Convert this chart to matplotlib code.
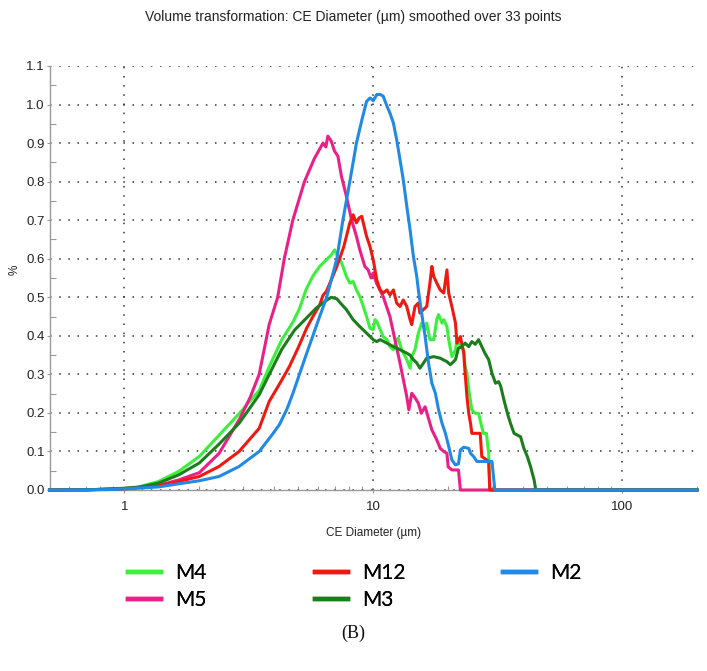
import numpy as np
import matplotlib
matplotlib.use("Agg")
import matplotlib.pyplot as plt
from matplotlib.ticker import FixedLocator, NullFormatter, FuncFormatter

# ---------------- data ----------------
m4_x = [0.5, 0.7, 0.85, 1.0, 1.14, 1.37, 1.65, 2.0, 2.4, 2.89, 3.48, 3.82, 4.29, 4.75, 5.05, 5.37,
        5.72, 6.09, 6.48, 6.78, 6.99, 7.15, 7.34, 7.55, 7.80, 8.05, 8.30, 8.56, 8.83, 9.12, 9.40,
        9.70, 10.0, 10.16, 10.33, 10.66, 10.96, 11.35, 11.67, 12.05, 12.42, 12.6, 13.0, 13.64,
        14.06, 14.28, 14.71, 15.18, 15.65, 16.16, 16.4, 16.9, 17.5, 18.0, 18.3, 18.9, 19.2, 19.77,
        20.1, 20.7, 21.4, 21.7, 22.4, 23.1, 23.4, 23.8, 24.2, 24.9, 25.7, 26.5, 27.3, 27.7, 28.5,
        29.1, 29.4, 200]
m4_y = [0.0, 0.0005, 0.002, 0.005, 0.008, 0.022, 0.048, 0.087, 0.142, 0.198, 0.258, 0.32, 0.39,
        0.435, 0.47, 0.52, 0.555, 0.58, 0.597, 0.61, 0.623, 0.61, 0.60, 0.58, 0.554, 0.537, 0.541,
        0.519, 0.502, 0.476, 0.45, 0.42, 0.416, 0.442, 0.437, 0.416, 0.398, 0.39, 0.372, 0.364,
        0.39, 0.394, 0.364, 0.338, 0.316, 0.346, 0.364, 0.407, 0.433, 0.416, 0.433, 0.39, 0.39,
        0.442, 0.455, 0.433, 0.442, 0.424, 0.39, 0.346, 0.364, 0.39, 0.372, 0.364, 0.32, 0.303,
        0.26, 0.208, 0.199, 0.199, 0.164, 0.147, 0.147, 0.095, 0.0, 0.0]

m5_x = [0.5, 0.7, 0.85, 1.0, 1.14, 1.37, 1.65, 2.0, 2.4, 2.89, 3.2, 3.48, 3.82, 4.13, 4.39, 4.75,
        5.29, 5.8, 6.28, 6.45, 6.57, 6.78, 6.99, 7.21, 7.45, 7.80, 8.18, 8.56, 8.83, 9.25, 9.54,
        9.8, 10.0, 10.3, 10.96, 11.67, 12.22, 12.81, 13.64, 13.9, 14.28, 14.7, 15.18, 15.6, 16.16,
        16.6, 17.2, 18.0, 18.58, 19.2, 19.77, 20.0, 20.7, 22.0, 22.4, 200]
m5_y = [0.0, 0.0005, 0.002, 0.004, 0.007, 0.012, 0.026, 0.045, 0.095, 0.182, 0.24, 0.30, 0.43,
        0.50, 0.60, 0.70, 0.80, 0.86, 0.90, 0.89, 0.918, 0.905, 0.879, 0.866, 0.814, 0.762, 0.701,
        0.658, 0.623, 0.58, 0.571, 0.55, 0.563, 0.537, 0.502, 0.45, 0.39, 0.329, 0.242, 0.208,
        0.251, 0.24, 0.225, 0.199, 0.216, 0.19, 0.156, 0.13, 0.108, 0.10, 0.095, 0.06, 0.052,
        0.052, 0.0, 0.0]

m12_x = [0.5, 0.7, 0.85, 1.0, 1.14, 1.37, 1.65, 2.0, 2.4, 2.89, 3.48, 3.82, 4.2, 4.6, 5.0, 5.4,
         5.72, 6.09, 6.28, 6.48, 6.78, 7.14, 7.38, 7.62, 7.80, 8.05, 8.30, 8.56, 8.78, 8.99, 9.12,
         9.40, 9.70, 10.0, 10.33, 10.66, 10.96, 11.35, 11.67, 12.05, 12.42, 12.81, 13.2, 13.64,
         14.06, 14.28, 14.71, 15.18, 15.4, 15.9, 16.4, 16.9, 17.2, 17.5, 18.0, 18.58, 19.2, 19.77,
         20.1, 20.7, 21.4, 21.7, 22.4, 23.1, 23.4, 23.8, 24.2, 24.6, 24.9, 26.9, 27.3, 29.1, 29.4,
         200]
m12_y = [0.0, 0.0005, 0.002, 0.003, 0.006, 0.010, 0.022, 0.035, 0.061, 0.10, 0.16, 0.23, 0.275,
         0.32, 0.37, 0.42, 0.45, 0.48, 0.505, 0.515, 0.545, 0.58, 0.606, 0.632, 0.658, 0.693,
         0.714, 0.693, 0.706, 0.71, 0.693, 0.658, 0.632, 0.597, 0.545, 0.519, 0.511, 0.519, 0.506,
         0.519, 0.485, 0.476, 0.493, 0.476, 0.442, 0.429, 0.476, 0.485, 0.459, 0.468, 0.476,
         0.537, 0.58, 0.554, 0.537, 0.519, 0.511, 0.571, 0.511, 0.476, 0.433, 0.381, 0.398, 0.355,
         0.303, 0.242, 0.199, 0.173, 0.147, 0.147, 0.087, 0.074, 0.0, 0.0]

m3_x = [0.5, 0.7, 0.85, 1.0, 1.14, 1.37, 1.65, 2.0, 2.4, 2.89, 3.48, 3.82, 4.29, 4.83, 5.37, 5.9,
        6.48, 6.78, 7.14, 7.38, 7.80, 8.30, 8.83, 9.40, 10.0, 10.33, 10.66, 11.35, 12.05, 12.81,
        13.64, 14.06, 14.5, 14.95, 15.4, 15.9, 16.4, 17.5, 18.58, 19.77, 20.4, 21.4, 22.0, 22.7,
        23.4, 24.2, 24.9, 25.7, 26.5, 27.3, 28.1, 29.1, 30.0, 31.0, 31.9, 32.5, 33.5, 34.6, 35.6,
        36.8, 39.1, 40.3, 41.6, 42.9, 44.3, 45.0, 200]
m3_y = [0.0, 0.0005, 0.002, 0.004, 0.007, 0.018, 0.039, 0.07, 0.119, 0.173, 0.247, 0.30, 0.365,
        0.415, 0.445, 0.472, 0.492, 0.50, 0.496, 0.485, 0.468, 0.442, 0.424, 0.407, 0.39, 0.385,
        0.39, 0.381, 0.372, 0.364, 0.355, 0.35, 0.338, 0.33, 0.316, 0.329, 0.342, 0.346, 0.342,
        0.333, 0.325, 0.338, 0.368, 0.372, 0.381, 0.372, 0.385, 0.378, 0.39, 0.372, 0.355, 0.338,
        0.303, 0.277, 0.281, 0.27, 0.234, 0.199, 0.173, 0.147, 0.138, 0.108, 0.087, 0.06, 0.026,
        0.0, 0.0]

m2_x = [0.5, 0.7, 0.85, 1.0, 1.14, 1.37, 1.65, 2.0, 2.4, 2.89, 3.48, 3.94, 4.2, 4.5, 4.75, 5.05,
        5.37, 5.72, 6.09, 6.5, 7.14, 7.55, 8.05, 8.56, 9.0, 9.40, 9.70, 10.0, 10.33, 10.66, 10.96,
        11.35, 11.67, 12.05, 12.42, 12.81, 13.2, 13.64, 14.06, 14.5, 14.95, 15.18, 15.65, 16.16,
        16.68, 17.2, 17.77, 18.3, 18.9, 19.5, 20.1, 20.7, 21.4, 22.0, 22.4, 23.1, 24.2, 24.6, 25.3,
        26.1, 30.0, 30.8, 200]
m2_y = [0.0, 0.0005, 0.001, 0.003, 0.005, 0.008, 0.016, 0.024, 0.035, 0.061, 0.10, 0.145, 0.17,
        0.21, 0.25, 0.30, 0.35, 0.40, 0.45, 0.50, 0.60, 0.70, 0.80, 0.90, 0.96, 1.008, 1.017, 1.01,
        1.026, 1.026, 1.022, 0.996, 0.978, 0.952, 0.909, 0.857, 0.805, 0.736, 0.675, 0.606, 0.555,
        0.519, 0.459, 0.398, 0.329, 0.277, 0.251, 0.208, 0.173, 0.147, 0.113, 0.078, 0.065, 0.068,
        0.104, 0.111, 0.108, 0.095, 0.087, 0.074, 0.074, 0.0, 0.0]

series = [
    ("M4", m4_x, m4_y, "#3def3d"),
    ("M5", m5_x, m5_y, "#ec1f86"),
    ("M12", m12_x, m12_y, "#ee1a12"),
    ("M3", m3_x, m3_y, "#1b7d1b"),
    ("M2", m2_x, m2_y, "#2189e6"),
]

y_ticks = [0.0, 0.1, 0.2, 0.3, 0.4, 0.5, 0.6, 0.7, 0.8, 0.9, 1.0, 1.1]
x_ticks = [1, 10, 100]

title = "Volume transformation: CE Diameter (\u00b5m) smoothed over 33 points"
xlabel = "CE Diameter (\u00b5m)"
ylabel = "%"
caption = "(B)"

# ---------------- figure ----------------
W, H = 707, 671
fig = plt.figure(figsize=(W / 100, H / 100), dpi=100)
fig.patch.set_facecolor("white")
ax = fig.add_axes([49.5 / W, 1 - 490 / H, (697 - 49.5) / W, (490 - 66) / H])

handles = {}
for name, xs, ys, col in series:
    (ln,) = ax.plot(xs, ys, color=col, lw=2.2, clip_on=False, zorder=3,
                    solid_joinstyle="round")
    handles[name] = ln

ax.set_xscale("log")
ax.set_xlim(0.5, 200)
ax.set_ylim(0, 1.1)

ax.xaxis.set_major_locator(FixedLocator(x_ticks))
ax.xaxis.set_major_formatter(FuncFormatter(lambda v, p: f"{v:g}"))
minor_x = [m * 10.0 ** e for e in (-1, 0, 1, 2) for m in range(2, 10)]
minor_x = [v for v in minor_x if 0.5 <= v <= 200]
ax.xaxis.set_minor_locator(FixedLocator(minor_x))
ax.xaxis.set_minor_formatter(NullFormatter())

ax.yaxis.set_major_locator(FixedLocator(y_ticks))
ax.yaxis.set_major_formatter(FuncFormatter(lambda v, p: f"{v:.1f}"))
ax.yaxis.set_minor_locator(FixedLocator([v + 0.05 for v in y_ticks[:-1]]))

for s in ("top", "right"):
    ax.spines[s].set_visible(False)
for s in ("left", "bottom"):
    ax.spines[s].set_color("#9a9a9a")
    ax.spines[s].set_linewidth(1.0)

ax.tick_params(axis="both", which="major", colors="#9a9a9a", labelcolor="#222222",
               length=2, width=0.8, labelsize=9.5, direction="out")
ax.tick_params(axis="y", which="major", pad=1.5)
ax.tick_params(axis="x", which="major", pad=6)
ax.tick_params(axis="y", which="minor", colors="#9a9a9a", length=4, width=0.8, direction="in")
ax.tick_params(axis="x", which="minor", colors="#9a9a9a", length=3, width=0.8, direction="in")
for lab in ax.get_xticklabels() + ax.get_yticklabels():
    lab.set_fontfamily("Liberation Sans")

ax.grid(True, which="major", axis="both", color="#333333", linestyle=(0, (1, 5)),
        linewidth=1.1, zorder=1)
ax.set_axisbelow(True)

ax.set_xlabel(xlabel, fontsize=8.5, family="Liberation Sans", color="#222222")
ax.xaxis.set_label_coords(0.5, -(527 - 490) / (490 - 66))
ax.set_ylabel(ylabel, fontsize=8.5, family="Liberation Sans", color="#222222")
ax.yaxis.set_label_coords((21 - 49.5) / (697 - 49.5), (490 - 270) / (490 - 66))

fig.text(0.5, 1 - 17 / H, title, ha="center", va="center", fontsize=10,
         family="Liberation Sans", color="#222222")

# ---------------- legend (three columns) ----------------
leg_cols = [["M4", "M5"], ["M12", "M3"], ["M2"]]
leg_x = [128, 315, 503]
for names, lx in zip(leg_cols, leg_x):
    hs = []
    for n in names:
        h = plt.Line2D([], [], color=handles[n].get_color(), lw=3.2)
        hs.append(h)
    lg = fig.legend(hs, names, loc="upper left", bbox_to_anchor=(lx / W, 1 - 563 / H),
                    frameon=False, borderpad=0, borderaxespad=0, handlelength=1.6,
                    handletextpad=0.65, labelspacing=0.35,
                    prop=dict(family="Lato", size=15))
    fig.add_artist(lg)

fig.text(0.5, 1 - 633 / H, caption, ha="center", va="center", fontsize=13,
         family="Liberation Serif", color="#111111")

fig.savefig("out.png", dpi=100, facecolor="white")
